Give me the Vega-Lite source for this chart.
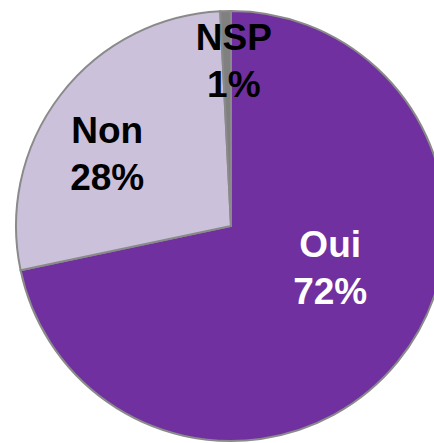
{
  "$schema": "https://vega.github.io/schema/vega-lite/v6.json",
  "width": 462,
  "height": 452,
  "autosize": {"type": "none"},
  "padding": 0,
  "background": "white",
  "view": {"stroke": null},
  "data": {
    "values": [
      {"cat": "Oui", "value": 71.7, "label": "Oui\n72%", "order": 1},
      {"cat": "Non", "value": 27.5, "label": "Non\n28%", "order": 2},
      {"cat": "NSP", "value": 0.8, "label": "NSP\n1%", "order": 3}
    ]
  },
  "encoding": {
    "theta": {"field": "value", "type": "quantitative", "stack": true},
    "order": {"field": "order", "type": "quantitative"}
  },
  "layer": [
    {
      "mark": {"type": "arc", "radius": 215, "stroke": "#8a8a8a", "strokeWidth": 2},
      "encoding": {
        "color": {
          "field": "cat",
          "type": "nominal",
          "scale": {"domain": ["Oui", "Non", "NSP"], "range": ["#7030A0", "#CCC1DA", "#808080"]},
          "legend": null
        }
      }
    },
    {
      "mark": {"type": "text", "radius": 120, "dx": 6, "dy": -56, "lineBreak": "\n", "font": "Liberation Sans", "fontWeight": "bold", "fontSize": 37, "lineHeight": 47, "color": "white", "align": "center", "baseline": "middle"},
      "encoding": {"text": {"condition": {"test": "datum.cat == 'Oui'", "field": "label"}, "value": ""}}
    },
    {
      "mark": {"type": "text", "radius": 150, "dx": -5, "dy": -2, "lineBreak": "\n", "font": "Liberation Sans", "fontWeight": "bold", "fontSize": 37, "lineHeight": 47, "color": "black", "align": "center", "baseline": "middle"},
      "encoding": {"text": {"condition": {"test": "datum.cat == 'Non'", "field": "label"}, "value": ""}}
    },
    {
      "mark": {"type": "text", "radius": 166, "dx": 7, "dy": -21, "lineBreak": "\n", "font": "Liberation Sans", "fontWeight": "bold", "fontSize": 37, "lineHeight": 47, "color": "black", "align": "center", "baseline": "middle"},
      "encoding": {"text": {"condition": {"test": "datum.cat == 'NSP'", "field": "label"}, "value": ""}}
    }
  ]
}
